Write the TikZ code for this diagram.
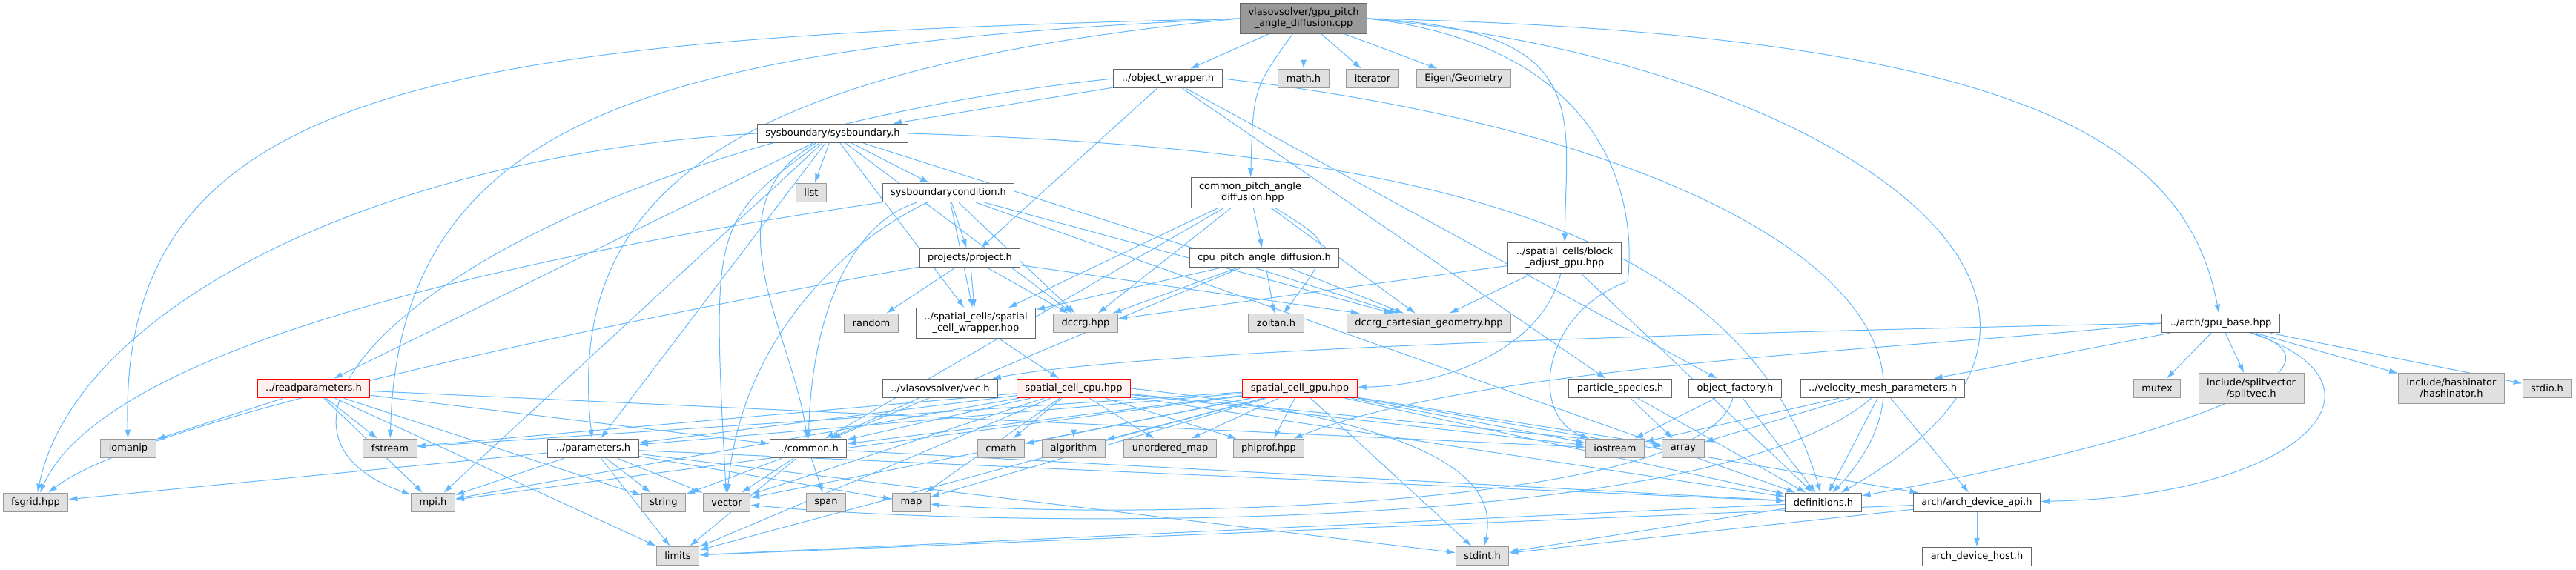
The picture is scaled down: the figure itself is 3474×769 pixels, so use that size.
\documentclass[tikz,border=0pt]{standalone}
\usepackage{fontspec}
\setmainfont{DejaVu Sans}
\usetikzlibrary{arrows.meta}

\definecolor{edgeblue}{RGB}{99,184,255}
\definecolor{darkline}{RGB}{102,102,102}
\definecolor{lightline}{RGB}{153,153,153}
\definecolor{sysfill}{RGB}{224,224,224}
\definecolor{truncfill}{RGB}{255,240,240}

\pgfdeclarelayer{edgelayer}
\pgfsetlayers{edgelayer,main}

\tikzset{
  hfile/.style={draw=darkline, fill=white, line width=0.5pt, font=\fontsize{6.5}{7.5}\selectfont,
    inner xsep=5.5pt, inner ysep=1pt, minimum height=12.75pt, align=center},
  sysfile/.style={hfile, draw=lightline, fill=sysfill},
  trunc/.style={hfile, draw=red, fill=truncfill},
  srcfile/.style={hfile, fill=lightline},
  twoline/.style={minimum height=20.25pt},
  inc/.style={draw=edgeblue, line width=0.5pt, -{Latex[length=6pt,width=4pt]}}
}

\begin{document}
\begin{tikzpicture}[x=0.5pt, y=-0.5pt]
\useasboundingbox (0,0) rectangle (3474,769);

% rows, top to bottom
\node[srcfile, twoline] (main) at (1758,25) {vlasovsolver/gpu\_pitch\\\_angle\_diffusion.cpp};

\node[hfile] (ow) at (1575,106) {../object\_wrapper.h};
\node[sysfile] (mathh) at (1758,106) {math.h};
\node[sysfile] (iter) at (1851,106) {iterator};
\node[sysfile] (eigen) at (1974,106) {Eigen/Geometry};

\node[hfile] (sysb) at (1123,180) {sysboundary/sysboundary.h};

\node[sysfile] (list) at (1094,260) {list};
\node[hfile] (sbc) at (1279,260) {sysboundarycondition.h};
\node[hfile, twoline] (cpad) at (1686,260) {common\_pitch\_angle\\\_diffusion.hpp};

\node[hfile] (proj) at (1308,348) {projects/project.h};
\node[hfile] (cpu) at (1705,348) {cpu\_pitch\_angle\_diffusion.h};
\node[hfile, twoline] (badj) at (2110,348) {../spatial\_cells/block\\\_adjust\_gpu.hpp};

\node[sysfile] (random) at (1175,436) {random};
\node[hfile, twoline] (scw) at (1316,436) {../spatial\_cells/spatial\\\_cell\_wrapper.hpp};
\node[sysfile] (dccrg) at (1464,436) {dccrg.hpp};
\node[sysfile] (zoltan) at (1721,436) {zoltan.h};
\node[sysfile] (dcg) at (1927,436) {dccrg\_cartesian\_geometry.hpp};
\node[hfile] (gpub) at (2995,436) {../arch/gpu\_base.hpp};

\node[trunc] (readp) at (423,524) {../readparameters.h};
\node[hfile] (vec) at (1268,524) {../vlasovsolver/vec.h};
\node[trunc] (sccpu) at (1448,524) {spatial\_cell\_cpu.hpp};
\node[trunc] (scgpu) at (1753,524) {spatial\_cell\_gpu.hpp};
\node[hfile] (psp) at (2185,524) {particle\_species.h};
\node[hfile] (ofac) at (2340,524) {object\_factory.h};
\node[hfile] (vmp) at (2539,524) {../velocity\_mesh\_parameters.h};
\node[sysfile] (mutex) at (2909,524) {mutex};
\node[sysfile, twoline] (splitvec) at (3036,524) {include/splitvector\\/splitvec.h};
\node[sysfile, twoline] (hashi) at (3306,524) {include/hashinator\\/hashinator.h};
\node[sysfile] (stdioh) at (3435,524) {stdio.h};

\node[sysfile] (iomanip) at (173,605) {iomanip};
\node[sysfile] (fstream) at (526,605) {fstream};
\node[hfile] (params) at (800,605) {../parameters.h};
\node[hfile] (common) at (1090,605) {../common.h};
\node[sysfile] (cmath) at (1350,605) {cmath};
\node[sysfile] (algo) at (1448,605) {algorithm};
\node[sysfile] (umap) at (1578,605) {unordered\_map};
\node[sysfile] (phiprof) at (1711,605) {phiprof.hpp};
\node[sysfile] (iostream) at (2178,605) {iostream};
\node[sysfile] (array) at (2270,605) {array};

\node[sysfile] (fsgrid) at (48,678) {fsgrid.hpp};
\node[sysfile] (mpih) at (584,678) {mpi.h};
\node[sysfile] (string) at (895,678) {string};
\node[sysfile] (vector) at (980,678) {vector};
\node[sysfile] (span) at (1114,678) {span};
\node[sysfile] (map) at (1229,678) {map};
\node[hfile] (defs) at (2459,678) {definitions.h};
\node[hfile] (adapi) at (2666,678) {arch/arch\_device\_api.h};

\node[sysfile] (limits) at (914,750) {limits};
\node[sysfile] (stdint) at (1999,750) {stdint.h};
\node[hfile] (adhost) at (2666,751) {arch\_device\_host.h};

\begin{pgfonlayer}{edgelayer}
% gpu_pitch_angle_diffusion.cpp
\draw[inc] (main) -- (ow);
\draw[inc] (main) -- (mathh);
\draw[inc] (main) -- (iter);
\draw[inc] (main) -- (eigen);
\draw[inc] (main) .. controls (1690,120) .. (cpad);
\draw[inc] (main.west) .. controls (600,50) and (158,110) .. (iomanip);
\draw[inc] (main.west) .. controls (900,60) and (537,150) .. (fstream);
\draw[inc] (main.west) .. controls (1000,90) and (760,250) .. (params);
\draw[inc] (main.east) .. controls (2150,40) and (2112,150) .. (badj);
\draw[inc] (main.east) .. controls (2750,45) and (2950,200) .. (gpub);
\draw[inc] (main.east) .. controls (2150,60) and (2210,250) .. (2195,380)
  .. controls (2080,420) and (2060,560) .. (iostream);
\draw[inc] (main.east) .. controls (2450,80) and (2950,400) .. (defs);

% object_wrapper.h
\draw[inc] (ow) -- (sysb);
\draw[inc] (ow) -- (proj);
\draw[inc] (ow) -- (psp);
\draw[inc] (ow) -- (ofac);
\draw[inc] (ow.east) .. controls (2300,180) and (2700,420) .. (defs);
\draw[inc] (ow.west) .. controls (700,190) and (250,560) .. (mpih);

% sysboundary.h
\draw[inc] (sysb) -- (list);
\draw[inc] (sysb) -- (sbc);
\draw[inc] (sysb) -- (readp);
\draw[inc] (sysb) -- (params);
\draw[inc] (sysb) .. controls (950,280) and (1070,450) .. (common);
\draw[inc] (sysb) -- (scw);
\draw[inc] (sysb) -- (dccrg);
\draw[inc] (sysb) -- (dcg);
\draw[inc] (sysb.west) .. controls (500,210) and (100,420) .. (fsgrid);
\draw[inc] (sysb) -- (mpih);
\draw[inc] (sysb) .. controls (960,300) .. (vector);
\draw[inc] (sysb.east) .. controls (1900,200) and (2350,300) .. (defs);

% sysboundarycondition.h
\draw[inc] (sbc) -- (proj);
\draw[inc] (sbc) -- (scw);
\draw[inc] (sbc) -- (dccrg);
\draw[inc] (sbc) -- (dcg);
\draw[inc] (sbc) .. controls (1150,300) and (1095,420) .. (common);
\draw[inc] (sbc) .. controls (1150,320) and (1000,450) .. (vector);
\draw[inc] (sbc) .. controls (800,330) and (150,450) .. (fsgrid);
\draw[inc] (sbc) -- (defs);

% common_pitch_angle_diffusion.hpp
\draw[inc] (cpad) -- (cpu);
\draw[inc] (cpad) -- (scw);
\draw[inc] (cpad) -- (dccrg);
\draw[inc] (cpad) .. controls (1800,330) .. (zoltan);
\draw[inc] (cpad) -- (dcg);
\draw[inc] (cpad) -- (common);

% cpu_pitch_angle_diffusion.h
\draw[inc] (cpu) -- (scw);
\draw[inc] (cpu) -- (dccrg);
\draw[inc] (cpu) -- (zoltan);
\draw[inc] (cpu) -- (dcg);
\draw[inc] (cpu) -- (common);

% project.h
\draw[inc] (proj) -- (random);
\draw[inc] (proj) -- (scw);
\draw[inc] (proj) -- (dccrg);
\draw[inc] (proj) -- (dcg);
\draw[inc] (proj) .. controls (900,420) and (200,560) .. (fsgrid);

% block_adjust_gpu.hpp
\draw[inc] (badj) -- (dccrg);
\draw[inc] (badj) -- (dcg);
\draw[inc] (badj) .. controls (2080,470) and (1950,520) .. (scgpu);
\draw[inc] (badj) -- (defs);

% spatial_cell_wrapper.hpp, vec.h
\draw[inc] (scw) -- (sccpu);
\draw[inc] (vec) -- (common);

% gpu_base.hpp
\draw[inc] (gpub.west) .. controls (2000,455) and (1500,480) .. (vec);
\draw[inc] (gpub) -- (vmp);
\draw[inc] (gpub) -- (mutex);
\draw[inc] (gpub) -- (splitvec);
\draw[inc] (gpub) -- (hashi);
\draw[inc] (gpub) -- (stdioh);
\draw[inc] (gpub.west) .. controls (2600,470) and (2000,490) .. (phiprof);
\draw[inc] (gpub) .. controls (3200,500) and (2900,600) .. (defs);
\draw[inc] (gpub) .. controls (3250,520) and (3100,670) .. (adapi);

% readparameters.h
\draw[inc] (readp) -- (iomanip);
\draw[inc] (readp) -- (fstream);
\draw[inc] (readp) -- (common);
\draw[inc] (readp) -- (iostream);
\draw[inc] (readp) -- (mpih);
\draw[inc] (readp) -- (string);
\draw[inc] (readp) -- (limits);

% spatial_cell_cpu.hpp
\draw[inc] (sccpu) -- (fstream);
\draw[inc] (sccpu) -- (params);
\draw[inc] (sccpu) -- (common);
\draw[inc] (sccpu) -- (cmath);
\draw[inc] (sccpu) -- (algo);
\draw[inc] (sccpu) -- (umap);
\draw[inc] (sccpu) -- (phiprof);
\draw[inc] (sccpu) -- (iostream);
\draw[inc] (sccpu) -- (array);
\draw[inc] (sccpu) -- (mpih);
\draw[inc] (sccpu) -- (vector);
\draw[inc] (sccpu) -- (map);
\draw[inc] (sccpu) -- (defs);
\draw[inc] (sccpu) -- (limits);
\draw[inc] (sccpu.east) .. controls (1950,570) and (2020,650) .. (stdint);

% spatial_cell_gpu.hpp
\draw[inc] (scgpu) -- (fstream);
\draw[inc] (scgpu) -- (params);
\draw[inc] (scgpu) -- (common);
\draw[inc] (scgpu) -- (cmath);
\draw[inc] (scgpu) -- (algo);
\draw[inc] (scgpu) -- (umap);
\draw[inc] (scgpu) -- (phiprof);
\draw[inc] (scgpu) -- (iostream);
\draw[inc] (scgpu) -- (array);
\draw[inc] (scgpu) -- (mpih);
\draw[inc] (scgpu) -- (vector);
\draw[inc] (scgpu) -- (map);
\draw[inc] (scgpu) -- (defs);
\draw[inc] (scgpu) -- (adapi);
\draw[inc] (scgpu) -- (limits);
\draw[inc] (scgpu) -- (stdint);

% particle_species.h, object_factory.h, velocity_mesh_parameters.h
\draw[inc] (psp) -- (array);
\draw[inc] (psp) -- (defs);
\draw[inc] (ofac) -- (iostream);
\draw[inc] (ofac) -- (defs);
\draw[inc] (ofac) .. controls (2300,690) and (1500,700) .. (map);
\draw[inc] (vmp) -- (iostream);
\draw[inc] (vmp) -- (array);
\draw[inc] (vmp) -- (defs);
\draw[inc] (vmp) -- (adapi);
\draw[inc] (vmp) .. controls (2300,730) and (1300,710) .. (vector);

% parameters.h
\draw[inc] (params) -- (fsgrid);
\draw[inc] (params) -- (mpih);
\draw[inc] (params) -- (string);
\draw[inc] (params) -- (vector);
\draw[inc] (params) -- (map);
\draw[inc] (params) -- (limits);
\draw[inc] (params) -- (stdint);
\draw[inc] (params) -- (defs);

% common.h
\draw[inc] (common) -- (string);
\draw[inc] (common) -- (vector);
\draw[inc] (common) -- (span);
\draw[inc] (common) -- (limits);
\draw[inc] (common) -- (defs);

% definitions.h, arch_device_api.h
\draw[inc] (defs) -- (limits);
\draw[inc] (defs) -- (stdint);
\draw[inc] (adapi) -- (adhost);
\draw[inc] (adapi) -- (stdint);
\draw[inc] (adapi) -- (limits);
\end{pgfonlayer}

\end{tikzpicture}
\end{document}
